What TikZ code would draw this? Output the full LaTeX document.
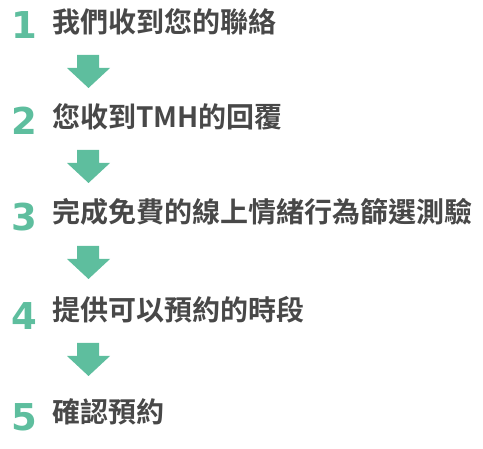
\documentclass[tikz,border=0pt]{standalone}
\usepackage{fontspec}
\newfontfamily\cjk{Noto Sans CJK TC}[BoldFont=* Bold]
\newfontfamily\numfont{DejaVu Sans}
\definecolor{stepgreen}{RGB}{94,190,158}
\definecolor{steptext}{RGB}{72,72,72}
\begin{document}
\begin{tikzpicture}[x=1pt,y=-1pt,
  numlabel/.style={inner sep=0pt, anchor=center, text=stepgreen, font=\numfont\bfseries\fontsize{37}{37}\selectfont},
  steplabel/.style={inner sep=0pt, anchor=west, text=steptext, font=\cjk\bfseries\fontsize{28}{28}\selectfont},
  downarrow/.style={fill=stepgreen, draw=none}
]
\useasboundingbox (0,0) rectangle (483,449);
\node[numlabel] (n1) at (24,25.5) {1};
\node[steplabel] (t1) at (52,22) {我們收到您的聯絡};
\node[numlabel] (n2) at (24,121) {2};
\node[steplabel] (t2) at (52,117) {您收到TMH的回覆};
\node[numlabel] (n3) at (24,217) {3};
\node[steplabel] (t3) at (52,212) {完成免費的線上情緒行為篩選測驗};
\node[numlabel] (n4) at (24,316) {4};
\node[steplabel] (t4) at (52,310) {提供可以預約的時段};
\node[numlabel] (n5) at (24,417) {5};
\node[steplabel] (t5) at (52,412) {確認預約};
\foreach \top in {55,150,246,343}{
  \fill[downarrow] (77,\top) -- (99,\top) -- (99,\top+13) -- (110,\top+13)
    -- (88.5,\top+33) -- (67,\top+13) -- (77,\top+13) -- cycle;
}
\end{tikzpicture}
\end{document}
